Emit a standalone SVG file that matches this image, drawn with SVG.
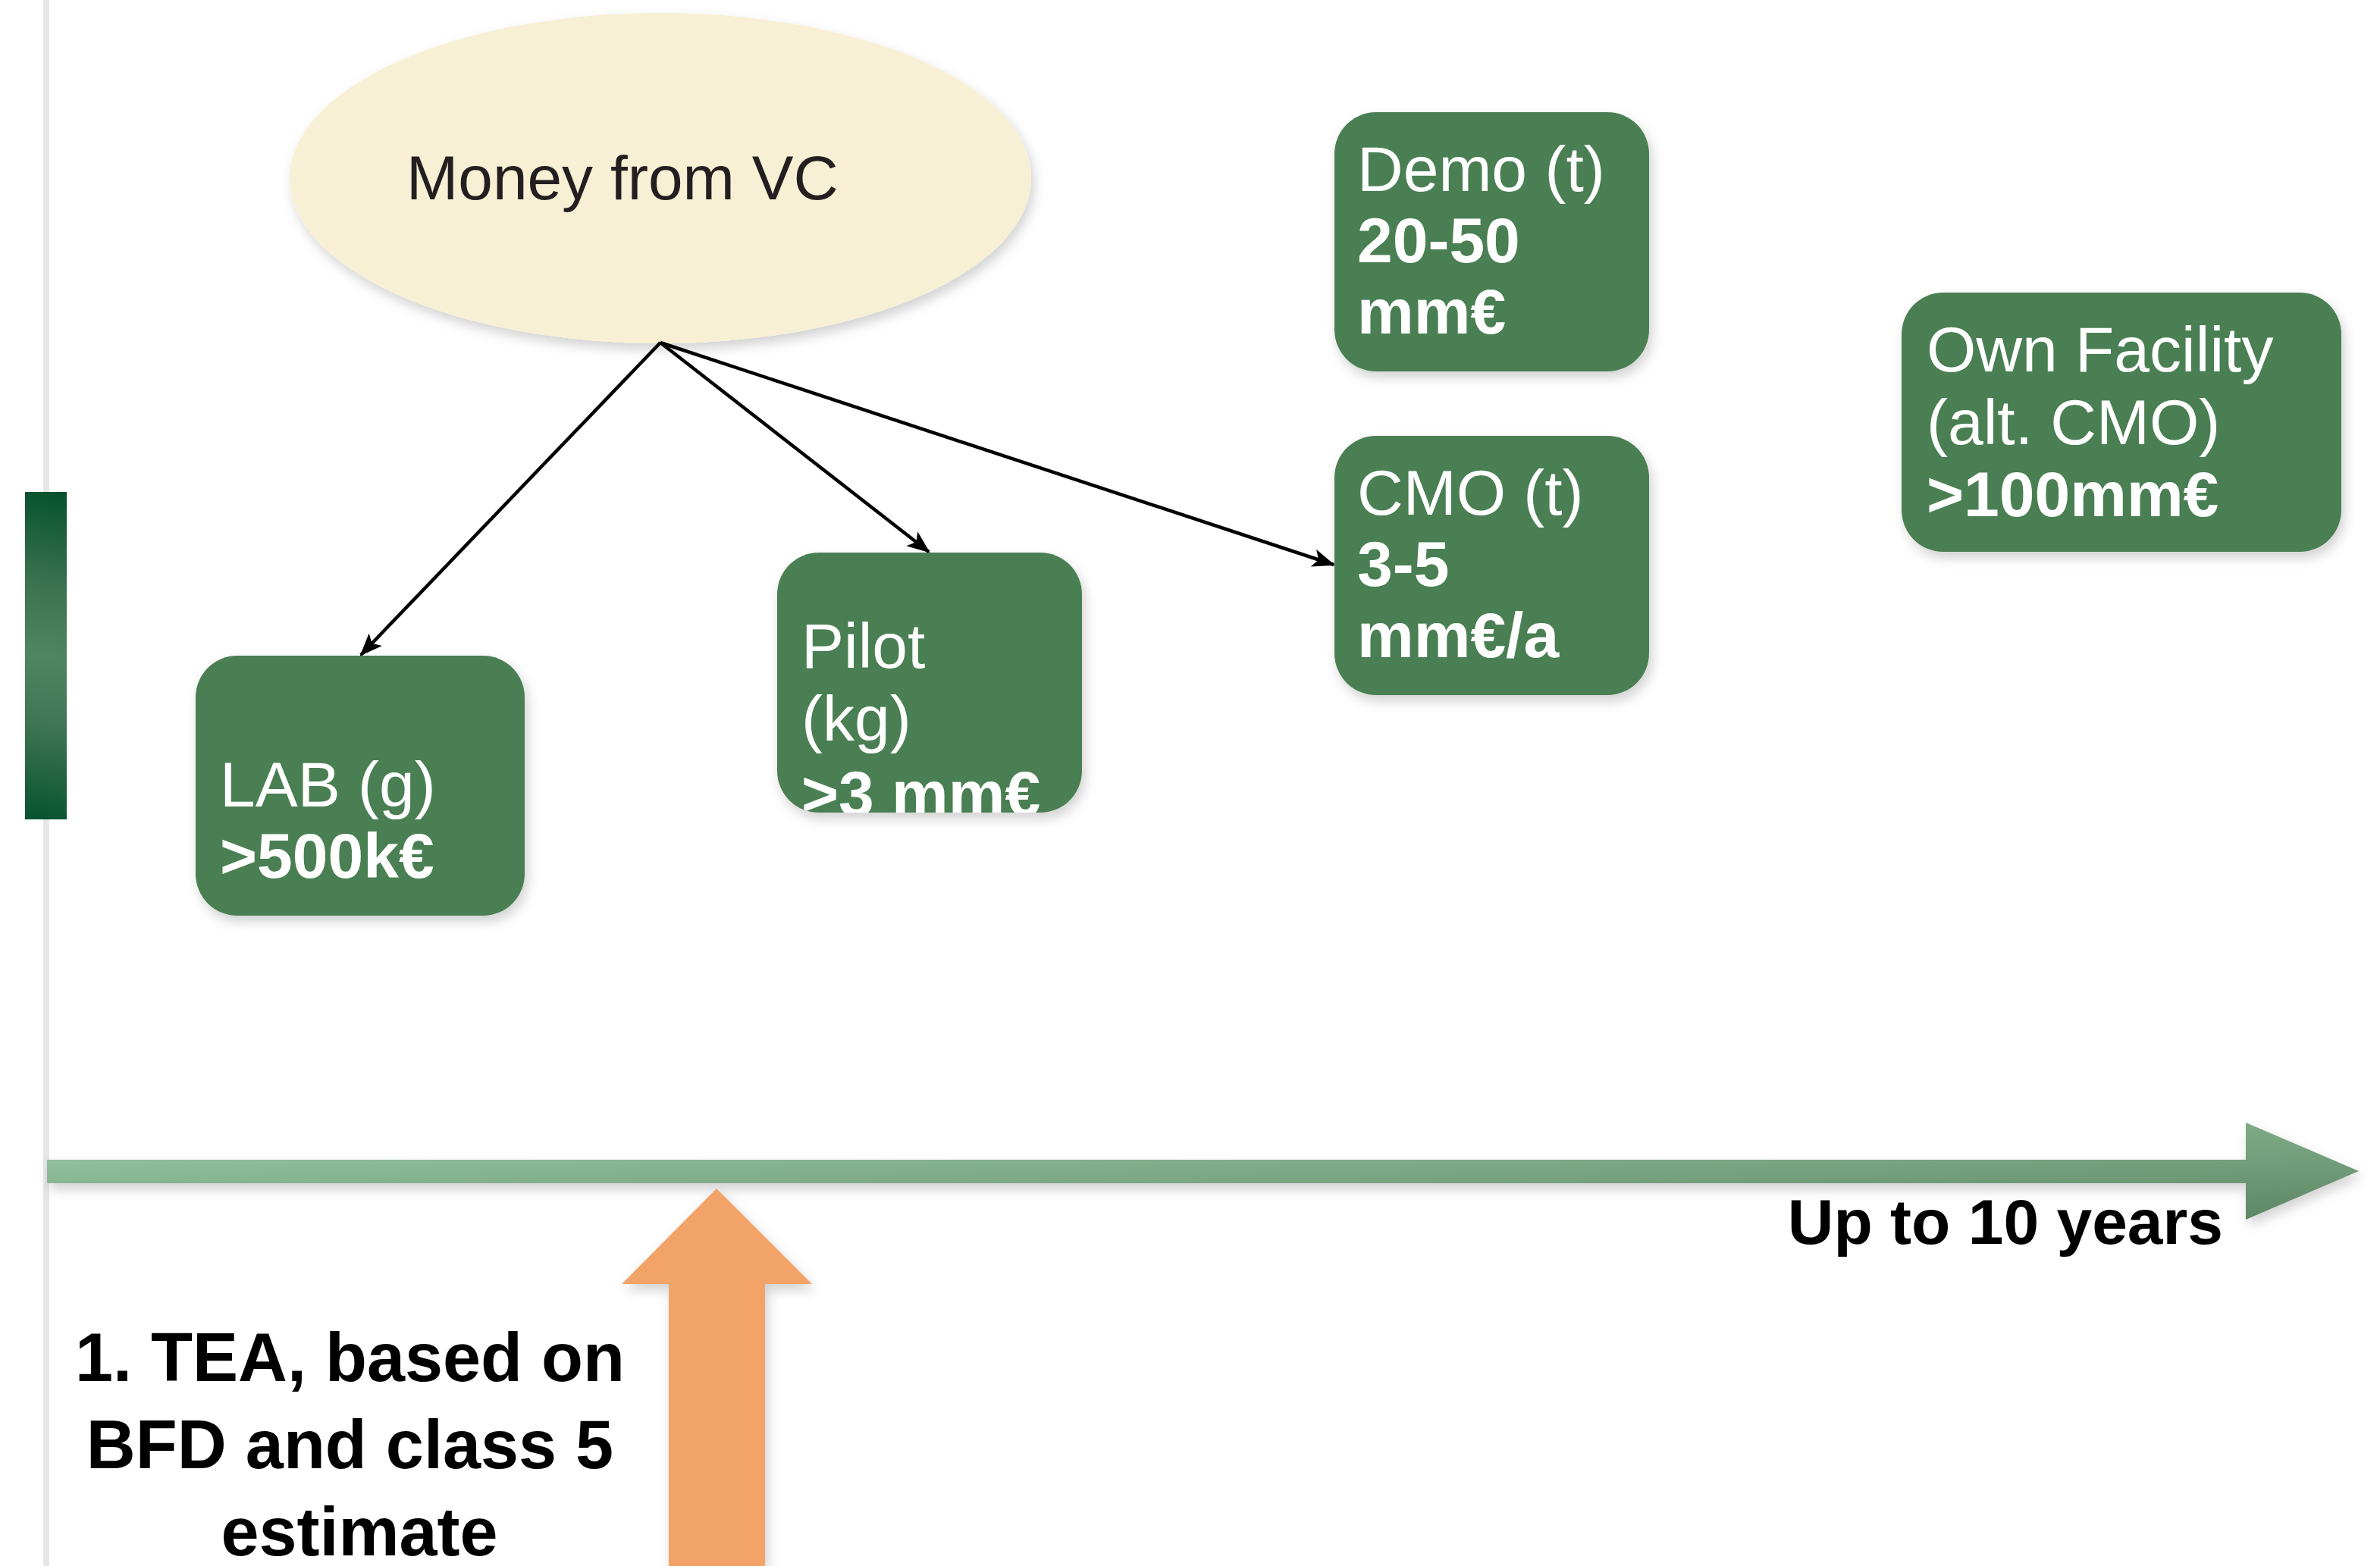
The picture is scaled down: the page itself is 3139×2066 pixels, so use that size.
<svg xmlns="http://www.w3.org/2000/svg" width="3139" height="2066" viewBox="0 0 3139 2066">
  <defs>
    <style>
      .box { fill: #4a7f53; filter: url(#shadow); }
      .lbl { font-family: "Liberation Sans", Arial, sans-serif; font-size: 84px; fill: #ffffff; }
      .b { font-weight: bold; }
      .dark { font-family: "Liberation Sans", Arial, sans-serif; font-weight: bold; fill: #000000; }
      .conn { stroke: #000000; stroke-width: 4.5; fill: none; marker-end: url(#head); }
    </style>
    <filter id="shadow" x="-20%" y="-20%" width="150%" height="150%">
      <feDropShadow dx="4" dy="8" stdDeviation="8" flood-color="#000000" flood-opacity="0.18"/>
    </filter>
    <linearGradient id="barGrad" gradientUnits="userSpaceOnUse" x1="100" y1="649" x2="21" y2="1081">
      <stop offset="0" stop-color="#05502c"/>
      <stop offset="0.3" stop-color="#3c7450"/>
      <stop offset="0.5" stop-color="#4e8662"/>
      <stop offset="0.7" stop-color="#3f7653"/>
      <stop offset="1" stop-color="#07522e"/>
    </linearGradient>
    <linearGradient id="timeGrad" gradientUnits="userSpaceOnUse" x1="62" y1="0" x2="3110" y2="0">
      <stop offset="0" stop-color="#8fc49b"/>
      <stop offset="1" stop-color="#6c9d74"/>
    </linearGradient>
    <linearGradient id="timeShade" gradientUnits="userSpaceOnUse" x1="0" y1="1481" x2="0" y2="1609">
      <stop offset="0" stop-color="#ffffff" stop-opacity="0.12"/>
      <stop offset="1" stop-color="#000000" stop-opacity="0.16"/>
    </linearGradient>
    <marker id="head" markerUnits="userSpaceOnUse" markerWidth="30" markerHeight="24" viewBox="0 0 30 24" refX="28" refY="12" orient="auto">
      <path d="M0,0 L30,12 L0,24 L7,12 z" fill="#000000"/>
    </marker>
    <clipPath id="pilotClip">
      <rect x="1025" y="729" width="402" height="343" rx="55"/>
    </clipPath>
  </defs>

  <!-- vertical guide line on the left -->
  <rect x="57" y="0" width="8" height="2066" fill="#e6e6e9"/>

  <!-- gradient marker bar -->
  <rect x="33" y="649" width="55" height="432" fill="url(#barGrad)"/>

  <!-- timeline arrow -->
  <g id="timeline">
    <path d="M62,1530 L2962,1530 L2962,1481 L3111,1545 L2962,1609 L2962,1561 L62,1561 z" fill="url(#timeGrad)" filter="url(#shadow)"/>
    <path d="M62,1530 L2962,1530 L2962,1481 L3111,1545 L2962,1609 L2962,1561 L62,1561 z" fill="url(#timeShade)"/>
    <text class="dark" x="2932" y="1641" font-size="84" text-anchor="end">Up to 10 years</text>
  </g>

  <!-- orange up arrow with caption -->
  <g id="tea">
    <path d="M945,1568 L1071,1694 L1009,1694 L1009,2066 L882,2066 L882,1694 L820,1694 z" fill="#f2a468" filter="url(#shadow)"/>
    <text class="dark" font-size="90" text-anchor="middle">
      <tspan x="474" y="1822">1. TEA, based on</tspan>
      <tspan x="474" y="1937">BFD and class 5</tspan>
      <tspan x="474" y="2052">estimate</tspan>
    </text>
  </g>

  <!-- funding source -->
  <g id="vc">
    <ellipse cx="871" cy="235" rx="489" ry="218" fill="#f7f0d4" filter="url(#shadow)"/>
    <text x="536" y="263" font-family="Liberation Sans, Arial, sans-serif" font-size="82" fill="#231f20">Money from VC</text>
  </g>

  <g id="lab">
    <rect class="box" x="258" y="865" width="434" height="343" rx="55"/>
    <text class="lbl" x="290" y="1064">LAB (g)</text>
    <text class="lbl b" x="290" y="1158">&gt;500k€</text>
  </g>

  <g id="pilot">
    <rect class="box" x="1025" y="729" width="402" height="343" rx="55"/>
    <g clip-path="url(#pilotClip)">
      <text class="lbl" x="1057" y="881">Pilot</text>
      <text class="lbl" x="1057" y="977">(kg)</text>
      <text class="lbl b" x="1057" y="1076">&gt;3 mm€</text>
    </g>
  </g>

  <g id="demo">
    <rect class="box" x="1760" y="148" width="415" height="342" rx="55"/>
    <text class="lbl" x="1790" y="252">Demo (t)</text>
    <text class="lbl b" x="1790" y="346">20-50</text>
    <text class="lbl b" x="1790" y="440">mm€</text>
  </g>

  <g id="cmo">
    <rect class="box" x="1760" y="575" width="415" height="342" rx="55"/>
    <text class="lbl" x="1790" y="679">CMO (t)</text>
    <text class="lbl b" x="1790" y="773">3-5</text>
    <text class="lbl b" x="1790" y="867">mm€/a</text>
  </g>

  <g id="own">
    <rect class="box" x="2508" y="386" width="580" height="342" rx="55"/>
    <text class="lbl" x="2541" y="490">Own Facility</text>
    <text class="lbl" x="2541" y="586">(alt. CMO)</text>
    <text class="lbl b" x="2541" y="681">&gt;100mm€</text>
  </g>

  <!-- funding flows -->
  <g id="connectors">
    <line class="conn" x1="871" y1="452" x2="476" y2="864"/>
    <line class="conn" x1="871" y1="452" x2="1225" y2="728"/>
    <line class="conn" x1="871" y1="452" x2="1759" y2="745"/>
  </g>
</svg>
